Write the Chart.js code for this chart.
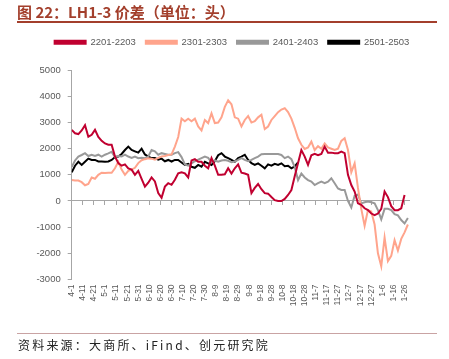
<!DOCTYPE html>
<html>
<head>
<meta charset="utf-8">
<script src="https://cdn.jsdelivr.net/npm/chart.js@4"></script>
<style>
  body { margin: 0; background: #fff; }
  #wrap { position: relative; width: 449px; height: 359px; overflow: hidden; }
  #title { position: absolute; left: 17px; top: 1px; font: bold 15px "Noto Sans CJK SC", sans-serif; color: #A33F2C; white-space: nowrap; }
  #titleRule { position: absolute; left: 17px; top: 21px; width: 420px; height: 2px; background: #A33F2C; }
  #srcRule { position: absolute; left: 17px; top: 333px; width: 420px; height: 1px; background: #C9A3A3; }
  #source { position: absolute; left: 18px; top: 336px; font: 12px "Noto Sans CJK SC", sans-serif; color: #222; letter-spacing: 2.2px; white-space: nowrap; }
  canvas { position: absolute; left: 0; top: 0; }
</style>
</head>
<body>
<div id="wrap">
  <canvas id="spread" width="449" height="359"></canvas>
  <div id="title">图 22：LH1-3 价差（单位：头）</div>
  <div id="titleRule"></div>
  <div id="srcRule"></div>
  <div id="source">资料来源：大商所、iFind、创元研究院</div>
</div>
<script>
// days after 4-1 where values were read, one sample every 3 days
const sampleStep = 3;
const sampleCount = 102;
const sampleDays = Array.from({ length: sampleCount }, (_, i) => i * sampleStep);

// x tick labels, one every 10 days starting 4-1
const tickLabels = ['4-1', '4-11', '4-21', '5-1', '5-11', '5-21', '5-31', '6-10', '6-20', '6-30',
  '7-10', '7-20', '7-30', '8-9', '8-19', '8-29', '9-8', '9-18', '9-28', '10-8',
  '10-18', '10-28', '11-7', '11-17', '11-27', '12-7', '12-17', '12-27', '1-6', '1-16', '1-26'];

const seriesNames = ['2201-2203', '2301-2303', '2401-2403', '2501-2503'];

const spread2201 = [2720, 2590, 2560, 2700, 2900, 2460, 2530, 2720, 2450, 2300,
  2200, 2150, 2150, 1700, 1450, 1350, 1400, 1250, 1200, 1000,
  1150, 850, 550, 700, 900, 750, 300, 120, 550, 680,
  620, 810, 1060, 1100, 1060, 900, 1550, 1600, 1500, 1500,
  1350, 1250, 1640, 1350, 1000, 1000, 1020, 1250, 1050, 1250,
  1400, 1080, 1050, 1000, 300, 500, 650, 450, 300, 280,
  150, 30, 0, 0, 80, 230, 420, 950, 1450, 1950,
  1700, 1380, 1750, 1800, 1750, 1800, 2080, 1850, 1850, 1830,
  1830, 1890, 1830, 1000, 610, 360, -90, -150, -280, -350,
  -480, -540, -480, -300, 360, 150, -200, -350, -350, -280,
  230, null];

const spread2301 = [800, 780, 780, 720, 600, 650, 900, 850, 1000, 1080,
  1070, 1080, 1080, 1250, 1500, 1200, 1000, 1150, 1200, 1270,
  1450, 1560, 1600, 1630, 1620, 1580, 1650, 1700, 1720, 1760,
  1780, 2080, 2450, 3150, 3050, 3150, 3050, 3150, 2850, 2700,
  3100, 2980, 3350, 2980, 3000, 3200, 3600, 3850, 3700, 3200,
  3150, 2850, 3100, 3250, 3000, 3050, 3200, 3300, 2750, 2850,
  3100, 3250, 3400, 3500, 3550, 3400, 3150, 2800, 2400, 2150,
  1990, 2050, 2270, 1950, 2100, 2000, 2200, 2050, 2000, 1950,
  2000, 2300, 2400, 1950, 1100, 1440, 500, -300, -950, -350,
  -400, -900, -2000, -2500, -1400, -2300, -2100, -1500, -1900, -1450,
  -1200, -900];

const spread2401 = [1300, 1550, 1700, 1760, 1830, 1720, 1770, 1720, 1770, 1700,
  1770, 1820, 1880, 1680, 1720, 1700, 1770, 1700, 1650, 1700,
  1640, 1650, 1640, 1700, 1950, 1900, 1770, 1830, 1800, 1770,
  1770, 1830, 1870, 1680, 1400, 1350, 1440, 1520, 1580, 1640,
  1700, 1650, 1480, 1550, 1500, 1550, 1570, 1540, 1480, 1510,
  1570, 1640, 1570, 1520, 1570, 1640, 1700, 1790, 1800, 1800,
  1800, 1800, 1800, 1760, 1640, 1700, 1600, 1300, 800, 1050,
  900, 800, 740, 610, 680, 740, 680, 740, 870, 680,
  480, 420, 420, 0, -250, 200, 250, -90, -50, -20,
  -50, -90, -350, -700, -300, -300, -350, -500, -550, -730,
  -860, -650];

const spread2501 = [1100, 1350, 1500, 1380, 1500, 1620, 1570, 1570, 1510, 1510,
  1500, 1510, 1570, 1680, 1700, 1800, 1950, 2080, 1950, 1900,
  1850, 2000, 1780, 1700, 1640, 1640, 1580, 1620, 1520, 1570,
  1510, 1570, 1570, 1470, 1380, 1420, 1310, 1270, 1380, 1310,
  1500, 1440, 1380, 1520, 1750, 1830, 1700, 1640, 1570, 1500,
  1640, 1700, 1770, 1570, 1450, 1380, 1440, 1350, 1250, 1400,
  1350, 1420, 1380, 1440, 1330, 1350, 1250, 1320, 1480];

const seriesValues = [spread2201, spread2301, spread2401, spread2501];
const seriesColors = ['#C00030', '#FFA48C', '#999999', '#000000'];

function toPoints(values) {
  const pts = [];
  values.forEach((v, i) => {
    if (v !== null && v !== undefined) pts.push({ x: sampleDays[i], y: v });
  });
  return pts;
}

const axisColor = '#A6A6A6';
const textColor = '#595959';
const lastDay = 304;

new Chart(document.getElementById('spread').getContext('2d'), {
  type: 'line',
  data: {
    datasets: seriesNames.map((name, i) => ({
      label: name,
      data: toPoints(seriesValues[i]),
      borderColor: seriesColors[i],
      backgroundColor: seriesColors[i],
      borderWidth: 2,
      pointRadius: 0,
      tension: 0,
      fill: false,
      xAxisID: 'x',
      yAxisID: 'y'
    }))
  },
  options: {
    responsive: false,
    animation: false,
    layout: { padding: { top: 27.5, left: 15, right: 0, bottom: 0 } },
    plugins: {
      legend: {
        position: 'top',
        align: 'center',
        labels: {
          boxWidth: 31,
          boxHeight: 3,
          padding: 10,
          color: textColor,
          font: { family: '"Liberation Sans", Arial, sans-serif', size: 9.5 }
        }
      },
      tooltip: { enabled: false }
    },
    scales: {
      x: {
        type: 'linear',
        position: 'bottom',
        min: 0,
        max: lastDay,
        grid: { display: false, drawTicks: false },
        border: { display: false },
        ticks: {
          stepSize: 10,
          includeBounds: false,
          autoSkip: false,
          minRotation: 90,
          maxRotation: 90,
          padding: 5,
          color: textColor,
          font: { family: '"Liberation Sans", Arial, sans-serif', size: 8.5 },
          callback: (v) => tickLabels[Math.round(v / 10)] || ''
        },
        afterFit: (s) => { s.height = 79.6; }
      },
      x2: {
        type: 'linear',
        axis: 'x',
        position: { y: 0 },
        min: 0,
        max: lastDay,
        ticks: { display: false, stepSize: 10, includeBounds: false },
        grid: { drawOnChartArea: false, drawTicks: true, tickLength: 4, color: axisColor },
        border: { display: true, color: axisColor, width: 1 }
      },
      xTop: {
        type: 'linear',
        axis: 'x',
        position: 'top',
        ticks: { display: false },
        grid: { display: false },
        border: { display: false },
        afterFit: (s) => { s.height = 13.3; }
      },
      y: {
        min: -3000,
        max: 5000,
        position: 'left',
        ticks: {
          stepSize: 1000,
          padding: 7,
          color: textColor,
          font: { family: '"Liberation Sans", Arial, sans-serif', size: 9.5 },
          callback: (v) => String(v)
        },
        grid: { drawOnChartArea: false, drawTicks: true, tickLength: 4, color: axisColor },
        border: { display: true, color: axisColor, width: 1 },
        afterFit: (s) => { s.width = 56.7; }
      },
      yRight: {
        type: 'linear',
        axis: 'y',
        position: 'right',
        ticks: { display: false },
        grid: { display: false },
        border: { display: false },
        afterFit: (s) => { s.width = 40; }
      }
    }
  }
});
</script>
</body>
</html>
